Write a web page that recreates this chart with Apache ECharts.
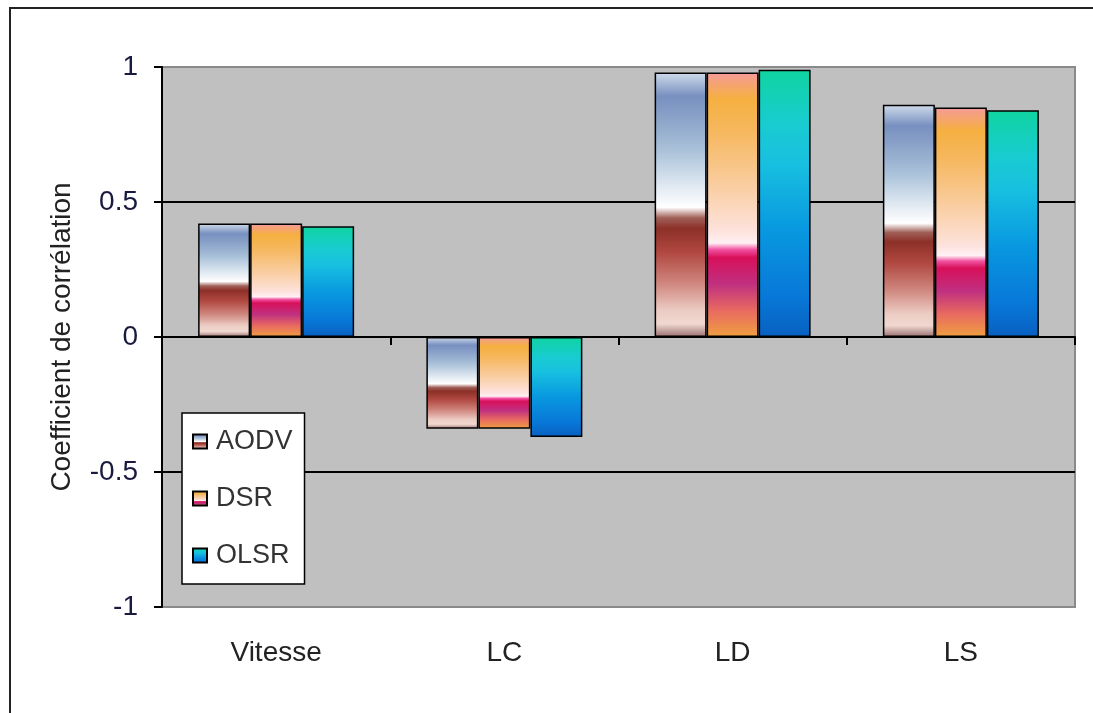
<!DOCTYPE html>
<html>
<head>
<meta charset="utf-8">
<script src="https://cdn.jsdelivr.net/npm/echarts@6/dist/echarts.min.js"></script>
<style>
html,body{margin:0;padding:0;background:#fff;}
#chart{width:1093px;height:713px;}
</style>
</head>
<body>
<div id="chart"></div>
<script>
const categories = ['Vitesse', 'LC', 'LD', 'LS'];
const seriesNames = ['AODV', 'DSR', 'OLSR'];
const aodv = [0.42, -0.34, 0.98, 0.86];
const dsr = [0.42, -0.34, 0.98, 0.85];
const olsr = [0.41, -0.37, 0.99, 0.84];
const yTicks = { min: -1, max: 1, interval: 0.5 };

function grad(stops) {
  return new echarts.graphic.LinearGradient(0, 0, 0, 1,
    stops.map(s => ({ offset: s[0], color: s[1] })));
}
const gAODV = grad([
  [0, '#d0dcea'], [0.09, '#7890c0'], [0.17, '#8aa2c8'], [0.29, '#a8c0d8'],
  [0.42, '#dce6f0'], [0.51, '#ffffff'], [0.55, '#a06058'], [0.59, '#8c3028'],
  [0.68, '#b04840'], [0.8, '#d08880'], [0.9, '#ecccc4'], [0.95, '#f0d8d0'], [1, '#9a7070']
]);
const gDSR = grad([
  [0, '#f59a9a'], [0.1, '#f5b040'], [0.23, '#f6b860'], [0.45, '#fad0a8'],
  [0.6, '#fde2dc'], [0.645, '#fff0f4'], [0.67, '#f050a0'], [0.7, '#d8105a'],
  [0.8, '#c03080'], [0.9, '#e86a60'], [1, '#f0a040']
]);
const gOLSR = grad([
  [0, '#10d4a0'], [0.2, '#18ccd0'], [0.35, '#18c0e0'], [0.6, '#0898e0'],
  [0.85, '#0878d8'], [1, '#0860c0']
]);

const fontFam = '"Liberation Sans", Arial, sans-serif';
const chart = echarts.init(document.getElementById('chart'), null, { renderer: 'canvas' });

function barSeries(name, data, color) {
  return {
    name: name, type: 'bar', data: data, barWidth: 52, barGap: '0%',
    xAxisIndex: 0,
    itemStyle: { color: color, borderColor: '#000', borderWidth: 1.5 }
  };
}

chart.setOption({
  backgroundColor: '#ffffff',
  animation: false,
  graphic: [{
    type: 'rect', shape: { x: 10, y: 8, width: 1200, height: 800 },
    style: { fill: 'none', stroke: '#222', lineWidth: 2 }, z: 100, silent: true
  }],
  grid: {
    left: 162, right: 18, top: 67, bottom: 106,
    show: true, backgroundColor: '#c0c0c0', borderColor: '#8a8a8a', borderWidth: 2
  },
  legend: {
    orient: 'vertical', left: 182, top: 413,
    data: seriesNames,
    backgroundColor: '#ffffff', borderColor: '#000', borderWidth: 1.5,
    padding: [15, 12, 15, 10], itemGap: 30,
    itemWidth: 14, itemHeight: 14, icon: 'rect',
    textStyle: { fontSize: 27, fontFamily: fontFam, color: '#333', padding: [0, 0, 0, 4] }
  },
  xAxis: [{
    type: 'category', data: categories, position: 'bottom',
    axisLine: { show: false, onZero: false }, axisTick: { show: false },
    axisLabel: { fontSize: 28, fontFamily: fontFam, color: '#222', margin: 32 },
    splitLine: { show: false }
  }, {
    type: 'category', data: categories, position: 'top',
    axisLine: { show: true, onZero: true, lineStyle: { color: '#000', width: 2 } },
    axisTick: { show: true, inside: true, length: 8, lineStyle: { color: '#000', width: 2 } },
    axisLabel: { show: false }, splitLine: { show: false }
  }],
  yAxis: {
    type: 'value', min: yTicks.min, max: yTicks.max, interval: yTicks.interval,
    name: 'Coefficient de corrélation', nameLocation: 'middle', nameGap: 86, nameRotate: 90,
    nameTextStyle: { fontSize: 28, fontFamily: fontFam, color: '#222' },
    axisLine: { show: true, lineStyle: { color: '#000', width: 2 } },
    axisTick: { show: true, length: 8, lineStyle: { color: '#000', width: 2 } },
    axisLabel: { fontSize: 28, fontFamily: fontFam, color: '#1a1a40', margin: 24 },
    splitLine: { show: true, showMinLine: false, showMaxLine: false, lineStyle: { color: '#000', width: 2 } }
  },
  series: [
    barSeries('AODV', aodv, gAODV),
    barSeries('DSR', dsr, gDSR),
    barSeries('OLSR', olsr, gOLSR)
  ]
});
</script>
</body>
</html>
